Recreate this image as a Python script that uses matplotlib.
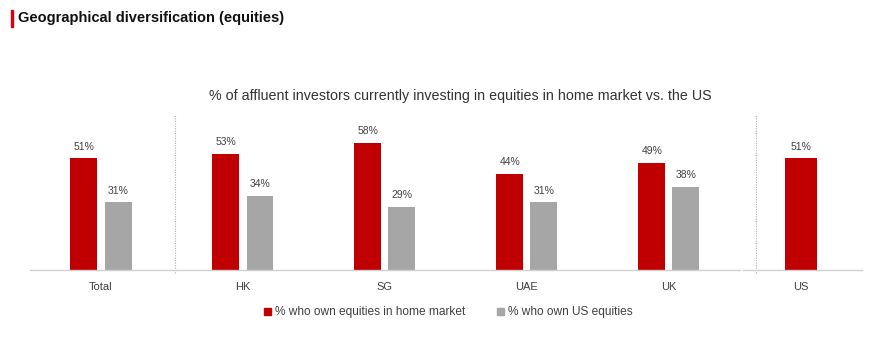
import matplotlib.pyplot as plt
from matplotlib.patches import Rectangle

plt.rcParams['font.family'] = ['Liberation Sans', 'DejaVu Sans']

# data
markets = ['Total', 'HK', 'SG', 'UAE', 'UK', 'US']
home_pct = [51, 53, 58, 44, 49, 51]
us_pct = [31, 34, 29, 31, 38, None]  # no US-equities bar for the US itself

RED = '#c00000'
GREY = '#a6a6a6'
TXT = '#404040'

fig = plt.figure(figsize=(8.83, 3.39), dpi=100)
ax = fig.add_axes([30 / 883, 69 / 339, 832 / 883, 155 / 339])

xpos = [0, 1, 2, 3, 4, 4.93]
w = 0.19
off = 0.12
for i, (x, h, u) in enumerate(zip(xpos, home_pct, us_pct)):
    if u is None:
        ax.bar(x, h, width=0.22, color=RED)
        ax.text(x, h + 3, f'{h}%', ha='center', va='bottom', fontsize=7.5, color=TXT)
        continue
    ax.bar(x - off, h, width=w, color=RED)
    ax.bar(x + off, u, width=w, color=GREY)
    ax.text(x - off, h + 3, f'{h}%', ha='center', va='bottom', fontsize=7.5, color=TXT)
    ax.text(x + off, u + 3, f'{u}%', ha='center', va='bottom', fontsize=7.5, color=TXT)

# dotted separators between total / markets / US
for sx in [0.52, 4.61]:
    ax.axvline(sx, ymin=-0.02, ymax=1, color='#b0b0b0', lw=0.8, ls=(0, (1, 1.2)), clip_on=False)

ax.set_xlim(-0.5, 5.36)
ax.set_ylim(0, 70.8)
ax.set_xticks(xpos)
ax.set_xticklabels(markets, fontsize=8, color=TXT)
ax.tick_params(axis='x', length=0, pad=9)
ax.set_yticks([])
for s in ax.spines.values():
    s.set_visible(False)
# baseline: main panel and US panel, small break between them
ax.plot([-0.5, 4.5], [0, 0], color='#d0d0d0', lw=1.0, clip_on=False)
ax.plot([4.52, 5.36], [0, 0], color='#d0d0d0', lw=1.0, clip_on=False)

# headline with red marker
fig.patches.append(Rectangle((11 / 883, 1 - 27 / 339), 2 / 883, 17 / 339,
                             transform=fig.transFigure, color='#db0011'))
fig.text(18 / 883, 1 - 18 / 339, 'Geographical diversification (equities)',
         fontsize=10.5, fontweight='bold', color='#111111', va='center')
fig.text(460 / 883, 1 - 96 / 339,
         '% of affluent investors currently investing in equities in home market vs. the US',
         fontsize=10.3, color='#333333', ha='center', va='center')

# legend drawn by hand to keep the spacing of the original
for lx, col, lab in [(264, RED, '% who own equities in home market'),
                     (497, GREY, '% who own US equities')]:
    fig.patches.append(Rectangle((lx / 883, 1 - 315 / 339), 7 / 883, 7 / 339,
                                 transform=fig.transFigure, color=col))
    fig.text((lx + 11) / 883, 1 - 311.5 / 339, lab, fontsize=8.6, color=TXT, va='center')

fig.savefig('out.png', dpi=100)
